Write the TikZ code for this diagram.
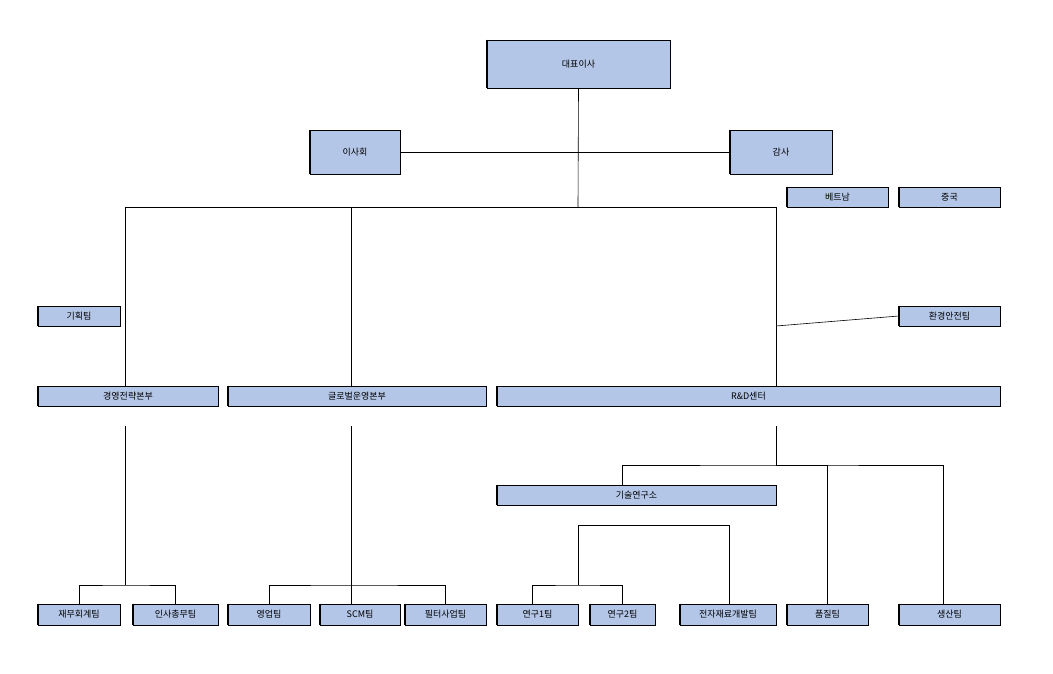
\documentclass[tikz,border=0pt]{standalone}
\usepackage{fontspec}
\newfontfamily\kr{Noto Sans CJK KR}
\begin{document}
\begin{tikzpicture}[x=1pt,y=-1pt,
  org/.style={draw=black,line width=0.6pt,fill=boxblue,inner sep=0pt,font=\kr\fontsize{9}{10}\selectfont},
  ln/.style={line width=0.6pt}]
\definecolor{boxblue}{HTML}{B4C6E7}
\useasboundingbox (0,0) rectangle (1053,673);
\newcommand\orgbox[6]{%
  \node[org,minimum width={#4-#2},minimum height={#5-#3}] (#1) at ({(#2+#4)/2},{(#3+#5)/2}) {#6};
  \draw[line width=1.6pt] (#1.north west) -- (#1.south west);}
\orgbox{ceo}{487}{40}{670}{88}{대표이사}
\orgbox{board}{310}{130}{400}{174}{이사회}
\orgbox{audit}{730}{130}{832}{174}{감사}
\orgbox{vn}{787}{187}{888}{207}{베트남}
\orgbox{cn}{899}{187}{1000}{207}{중국}
\orgbox{plan}{38}{306}{120}{326}{기획팀}
\orgbox{env}{899}{306}{1000}{326}{환경안전팀}
\orgbox{mgmt}{38}{386}{218}{406}{경영전략본부}
\orgbox{glob}{228}{386}{486}{406}{글로벌운영본부}
\orgbox{rd}{497}{386}{1000}{406}{R\&D센터}
\orgbox{tech}{497}{485}{776}{505}{기술연구소}
\orgbox{fin}{38}{604}{120}{625}{재무회계팀}
\orgbox{hr}{133}{604}{218}{625}{인사총무팀}
\orgbox{sales}{228}{604}{310}{625}{영업팀}
\orgbox{scm}{320}{604}{400}{625}{SCM팀}
\orgbox{filt}{405}{604}{486}{625}{필터사업팀}
\orgbox{r1}{497}{604}{578}{625}{연구1팀}
\orgbox{r2}{590}{604}{655}{625}{연구2팀}
\orgbox{elec}{680}{604}{776}{625}{전자재료개발팀}
\orgbox{qa}{787}{604}{868}{625}{품질팀}
\orgbox{prod}{899}{604}{1000}{625}{생산팀}
% junctions
\coordinate (j0) at (578,207);
\coordinate (jL) at (125,207); \coordinate (jM) at (351,207); \coordinate (jR) at (776,207);
\coordinate (jE) at (776,326);
\coordinate (mA) at (125,426); \coordinate (mB) at (125,585);
\coordinate (gA) at (351,426);
\coordinate (rA) at (776,426); \coordinate (rB) at (776,465);
\coordinate (tA) at (578,525); \coordinate (tB) at (578,585);
\draw[ln] (ceo.south) -- (j0);
\draw[ln] (board.east) -- (audit.west);
\draw[ln] (jL) -- (jR);
\draw[ln] (jL) -- (jL |- mgmt.north);
\draw[ln] (jM) -- (jM |- glob.north);
\draw[ln] (jR) -- (jR |- rd.north);
\draw[ln] (jE) -- (env.west);
\draw[ln] (mA) -- (mB);
\draw[ln] (fin.north) |- (mB) -| (hr.north);
\draw[ln] (gA) -- (gA |- scm.north);
\draw[ln] (sales.north) |- (351,585) -| (filt.north);
\draw[ln] (rA) -- (rB);
\draw[ln] (tech.north -| 622,0) |- (rB) -| (943,0 |- prod.north);
\draw[ln] (rB) -| (qa.north);
\draw[ln] (tA) -- (tB);
\draw[ln] (tA) -| (elec.north -| 729,0);
\draw[ln] (r1.north -| 532,0) |- (tB) -| (r2.north -| 622,0);
\end{tikzpicture}
\end{document}
